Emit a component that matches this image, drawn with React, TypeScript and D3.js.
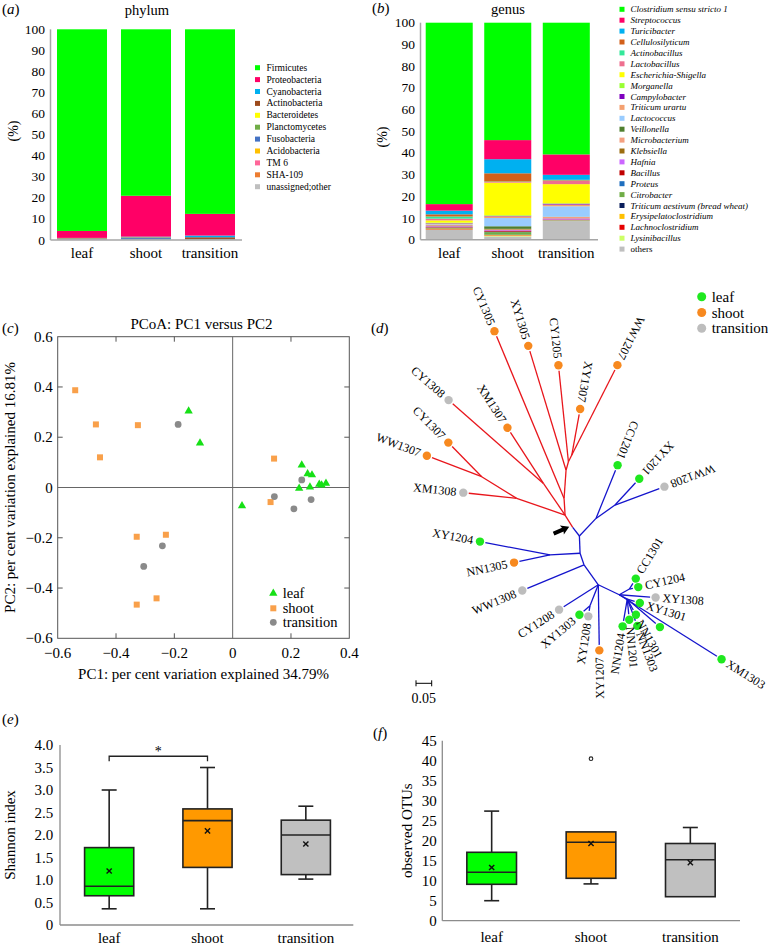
import React from 'react';
import * as d3 from 'd3';

const SERIF = '"Liberation Serif","Times New Roman",Times,serif';

// ---------- shared ----------
const groups = ['leaf', 'shoot', 'transition'];
const percentTicks = [0, 10, 20, 30, 40, 50, 60, 70, 80, 90, 100];

// ---------- (a) phylum ----------
const phylumNames = ['Firmicutes', 'Proteobacteria', 'Cyanobacteria', 'Actinobacteria', 'Bacteroidetes', 'Planctomycetes', 'Fusobacteria', 'Acidobacteria', 'TM 6', 'SHA-109', 'unassigned;other'];
const phylumColors = ['#00ff00', '#ff0066', '#00b0f0', '#9c4a1c', '#ffff00', '#70ad47', '#4472c4', '#ffc000', '#ff6699', '#ed7d31', '#bfbfbf'];
const phylumLeaf = [95.7, 3.3, 0.1, 0.2, 0.1, 0, 0.2, 0, 0.1, 0, 0.3];
const phylumShoot = [79.0, 19.4, 0.3, 0.2, 0.1, 0.1, 0.5, 0, 0, 0, 0.4];
const phylumTransition = [87.6, 10.3, 0.8, 0.8, 0.1, 0, 0.2, 0, 0, 0, 0.2];

// ---------- (b) genus ----------
const genusNames = ['Clostridium sensu stricto 1', 'Streptococcus', 'Turicibacter', 'Cellulosilyticum', 'Actinobacillus', 'Lactobacillus', 'Escherichia-Shigella', 'Morganella', 'Campylobacter', 'Triticum urartu', 'Lactococcus', 'Veillonella', 'Microbacterium', 'Klebsiella', 'Hafnia', 'Bacillus', 'Proteus', 'Citrobacter', 'Triticum aestivum (bread wheat)', 'Erysipelatoclostridium', 'Lachnoclostridium', 'Lysinibacillus', 'others'];
const genusColors = ['#00ff00', '#ff0066', '#00b0f0', '#d2601a', '#33e89a', '#ee6f8f', '#ffff00', '#99ff33', '#7f00bf', '#f4a070', '#99ccff', '#4f7f2f', '#f4a080', '#9c6d10', '#cc66ff', '#c00000', '#1f6fbf', '#70ad47', '#0a1f5c', '#ffc000', '#e60000', '#ccff66', '#bfbfbf'];
const genusLeaf = [83.6, 3.0, 1.7, 1.0, 1.0, 0.8, 1.0, 0.3, 0.2, 0.3, 0.3, 0.1, 0.4, 0.1, 0.4, 0.2, 0.1, 0.2, 0.1, 0.3, 0.2, 0.2, 4.5];
const genusShoot = [54.1, 8.8, 6.5, 3.8, 0.2, 0.3, 15.0, 0.3, 0.2, 0.8, 3.8, 1.2, 0.2, 0.3, 0.3, 0.5, 0.2, 1.2, 0.1, 0.2, 0.2, 0.3, 1.5];
const genusTransition = [60.7, 9.4, 2.3, 0.3, 0.2, 1.5, 8.8, 0.2, 0.4, 0.8, 4.8, 0.1, 0.6, 0.1, 0.5, 0.2, 0.1, 0.1, 0, 0.1, 0.1, 0.1, 8.6];

// ---------- (c) PCoA ----------
const pcoaLeafPC1 = [-0.151, -0.112, 0.237, 0.257, 0.272, 0.228, 0.265, 0.297, 0.305, 0.320, 0.032];
const pcoaLeafPC2 = [0.304, 0.177, 0.089, 0.054, 0.050, -0.003, 0.002, 0.013, 0.010, 0.017, -0.073];
const pcoaShootPC1 = [-0.540, -0.469, -0.325, -0.455, 0.142, 0.130, -0.329, -0.229, -0.261, -0.329];
const pcoaShootPC2 = [0.387, 0.251, 0.248, 0.120, 0.115, -0.058, -0.196, -0.188, -0.441, -0.466];
const pcoaTransitionPC1 = [-0.187, 0.237, 0.143, 0.269, 0.210, -0.241, -0.305];
const pcoaTransitionPC2 = [0.251, 0.030, -0.036, -0.048, -0.085, -0.232, -0.314];
const pcoaTicks = [-0.6, -0.4, -0.2, 0, 0.2, 0.4];
const pcoaYTicks = [-0.6, -0.4, -0.2, 0, 0.2, 0.4, 0.6];

// ---------- (d) tree: [node, parent, branch length, angle deg] ----------
const treeBranches: [string, string, number, number][] = [
  ['R0', 'O', 0.046, -121.9],
  ['n1', 'R0', 0.163, -161.0],
  ['XM1308', 'n1', 0.171, -173.9],
  ['n2', 'n1', 0.131, -148.2],
  ['WW1307', 'n2', 0.187, -159.1],
  ['CY1307', 'n2', 0.152, -134.4],
  ['n3', 'R0', 0.122, -124.4],
  ['CY1308', 'n3', 0.402, -138.7],
  ['XM1307', 'n3', 0.211, -122.9],
  ['n4', 'R0', 0.053, -93.4],
  ['CY1305', 'n4', 0.577, -112.6],
  ['n5', 'n4', 0.090, -86.0],
  ['XY1305', 'n5', 0.414, -106.9],
  ['n6', 'n5', 0.028, -74.4],
  ['CY1205', 'n6', 0.309, -95.9],
  ['n7', 'n6', 0.024, -63.4],
  ['XY1307', 'n7', 0.149, -79.7],
  ['WW1207', 'n7', 0.321, -63.1],
  ['B0', 'O', 0.035, 52.4],
  ['u1', 'B0', 0.077, -46.7],
  ['CC1201', 'u1', 0.183, -67.9],
  ['u2', 'u1', 0.074, -35.1],
  ['XY1201', 'u2', 0.114, -47.3],
  ['WW1208', 'u2', 0.168, -20.4],
  ['b1', 'B0', 0.055, 87.8],
  ['l1', 'b1', 0.096, 176.8],
  ['XY1204', 'l1', 0.227, -169.2],
  ['NN1305', 'l1', 0.117, 168.0],
  ['b2', 'b1', 0.039, 71.1],
  ['WW1308', 'b2', 0.213, 157.4],
  ['b3', 'b2', 0.078, 54.4],
  ['CY1208', 'b3', 0.148, 147.6],
  ['s1', 'b3', 0.072, 111.6],
  ['XY1303', 's1', 0.044, 139.8],
  ['XY1208', 's1', 0.034, 98.9],
  ['XY1207', 'b3', 0.209, 89.1],
  ['b4', 'b3', 0.074, 25.5],
  ['c1', 'b4', 0.037, -29.5],
  ['CC1301', 'c1', 0.039, -58.5],
  ['CY1204', 'c1', 0.029, -12.5],
  ['XY1308', 'b4', 0.116, 4.2],
  ['d1', 'b4', 0.029, 28.4],
  ['XY1301', 'd1', 0.042, 17.5],
  ['NN1204', 'd1', 0.088, 99.7],
  ['NN1201', 'd1', 0.066, 84.5],
  ['NN1303', 'd1', 0.091, 69.4],
  ['NN1301', 'd1', 0.057, 61.0],
  ['_leaf13', 'd1', 0.137, 40.6],
  ['XM1303', 'b4', 0.385, 32.2],
];
const treeLeafSamples = ['CC1201', 'XY1201', 'XY1204', 'CC1301', 'CY1204', 'XY1301', 'XY1303', 'NN1204', 'NN1201', 'NN1303', 'NN1301', '_leaf13', 'XM1303'];
const treeShootSamples = ['CY1305', 'XY1305', 'CY1205', 'WW1207', 'XY1307', 'XM1307', 'CY1307', 'WW1307', 'NN1305', 'XY1207'];
const treeTransitionSamples = ['CY1308', 'XM1308', 'WW1208', 'WW1308', 'CY1208', 'XY1208', 'XY1308'];
const outwardLabels = ['CC1301', 'CY1204', 'XY1308', 'XY1301', 'NN1301', 'NN1303', 'NN1201', 'XM1303'];

// ---------- (e) Shannon: [min, q1, median, q3, max, mean] ----------
const shannonLeaf = [0.36, 0.65, 0.86, 1.72, 3.0, 1.2];
const shannonShoot = [0.36, 1.28, 2.32, 2.58, 3.5, 2.09];
const shannonTransition = [1.02, 1.12, 2.0, 2.33, 2.64, 1.8];
const shannonTicks = [0, 0.5, 1.0, 1.5, 2.0, 2.5, 3.0, 3.5, 4.0];

// ---------- (f) observed OTUs ----------
const otuLeaf = [5, 9.1, 12.1, 17.1, 27.4, 13.3];
const otuShoot = [9.2, 10.6, 19.6, 22.2, 22.2, 19.3];
const otuTransition = [6.0, 6.0, 15.25, 19.3, 23.3, 14.5];
const otuShootOutliers = [40.5];
const otuTicks = [0, 5, 10, 15, 20, 25, 30, 35, 40, 45];

const boxColors = ['#00ff00', '#ff9900', '#c0c0c0'];
const sampleColors = { leaf: '#1fe81f', shoot: '#f7891f', transition: '#bdbdbd' };

function PanelLabel({ x, y, letter }: { x: number; y: number; letter: string }) {
  return (
    <text x={x} y={y} fontSize={15} dominantBaseline="central" fill="#000">
      (<tspan fontStyle="italic">{letter}</tspan>)
    </text>
  );
}

function stackLayers(names: string[], series: number[][]) {
  const rows = groups.map((g, i) => {
    const r: any = { group: g };
    names.forEach((n, j) => (r[n] = series[i][j]));
    return r;
  });
  return d3.stack<any>().keys([...names].reverse())(rows);
}

function StackPanel(props: {
  names: string[]; colors: string[]; series: number[][];
  x: d3.ScaleBand<string>; y: d3.ScaleLinear<number, number>;
  axisX: number; axisEnd: number; tickX: number;
}) {
  const { names, colors, series, x, y, axisX, axisEnd, tickX } = props;
  const layers = stackLayers(names, series);
  return (
    <g>
      {layers.map((layer) => {
        const ci = names.indexOf(layer.key);
        return layer.map((d, i) => {
          const h = y(d[0]) - y(d[1]);
          if (h <= 0) return null;
          return <rect key={layer.key + i} x={x(groups[i])} y={y(d[1])} width={x.bandwidth()} height={h} fill={colors[ci]} />;
        });
      })}
      <line x1={axisX} x2={axisX} y1={y(100)} y2={y(0)} stroke="#a6a6a6" strokeWidth={1.5} />
      <line x1={axisX} x2={axisEnd} y1={y(0)} y2={y(0)} stroke="#a6a6a6" strokeWidth={1.5} />
      {percentTicks.map((t) => (
        <text key={t} x={tickX} y={y(t)} fontSize={13.5} textAnchor="end" dominantBaseline="central">{t}</text>
      ))}
      {groups.map((g) => (
        <text key={g} x={(x(g) as number) + x.bandwidth() / 2} y={253} fontSize={15} textAnchor="middle" dominantBaseline="central">{g}</text>
      ))}
    </g>
  );
}

function PanelA() {
  const y = d3.scaleLinear().domain([0, 100]).range([240, 29.3]);
  const x = d3.scaleBand<string>().domain(groups).range([50, 242]).paddingInner(14 / 64).paddingOuter(7 / 64);
  return (
    <g>
      <PanelLabel x={2} y={9} letter="a" />
      <text x={147} y={9.5} fontSize={14.5} textAnchor="middle" dominantBaseline="central">phylum</text>
      <text transform="translate(13,131) rotate(-90)" fontSize={14} textAnchor="middle" dominantBaseline="central">(%)</text>
      <StackPanel names={phylumNames} colors={phylumColors} series={[phylumLeaf, phylumShoot, phylumTransition]} x={x} y={y} axisX={50.5} axisEnd={242} tickX={45} />
      {phylumNames.map((n, i) => (
        <g key={n}>
          <rect x={255} y={67.7 + i * 11.9 - 2.5} width={5} height={5} fill={phylumColors[i]} />
          <text x={266.5} y={67.7 + i * 11.9} fontSize={9.5} dominantBaseline="central">{n}</text>
        </g>
      ))}
    </g>
  );
}

function PanelB() {
  const y = d3.scaleLinear().domain([0, 100]).range([239.7, 22.7]);
  const x = d3.scaleBand<string>().domain(groups).range([420, 595.5]).paddingInner(0.1966).paddingOuter(0.0974);
  return (
    <g>
      <PanelLabel x={372} y={8} letter="b" />
      <text x={508} y={8.5} fontSize={14.5} textAnchor="middle" dominantBaseline="central">genus</text>
      <text transform="translate(382,137) rotate(-90)" fontSize={14} textAnchor="middle" dominantBaseline="central">(%)</text>
      <StackPanel names={genusNames} colors={genusColors} series={[genusLeaf, genusShoot, genusTransition]} x={x} y={y} axisX={420.5} axisEnd={598} tickX={415} />
      {genusNames.map((n, i) => (
        <g key={n}>
          <rect x={619.5} y={9.3 + i * 10.9 - 2.5} width={5} height={5} fill={genusColors[i]} />
          <text x={630.5} y={9.3 + i * 10.9} fontSize={9} fontStyle={n === 'others' ? 'normal' : 'italic'} dominantBaseline="central">{n}</text>
        </g>
      ))}
    </g>
  );
}

function fmtSigned(t: number) {
  if (t === 0) return '0';
  return (t < 0 ? '\u2212' : '') + Math.abs(t).toFixed(1);
}

function Triangle({ cx, cy, s, fill }: { cx: number; cy: number; s: number; fill: string }) {
  const sym = d3.symbol().type(d3.symbolTriangle).size(s)();
  return <path d={sym as string} transform={`translate(${cx},${cy})`} fill={fill} />;
}

function PanelC() {
  const x = d3.scaleLinear().domain([-0.6, 0.4]).range([57.7, 349.3]);
  const y = d3.scaleLinear().domain([-0.6, 0.6]).range([638.3, 336.7]);
  const tk = 5;
  return (
    <g>
      <PanelLabel x={2} y={328} letter="c" />
      <text x={201.5} y={323.5} fontSize={15} textAnchor="middle" dominantBaseline="central">PCoA: PC1 versus PC2</text>
      <rect x={x(-0.6)} y={y(0.6)} width={x(0.4) - x(-0.6)} height={y(-0.6) - y(0.6)} fill="none" stroke="#555" strokeWidth={1} />
      <line x1={x(0)} x2={x(0)} y1={y(0.6)} y2={y(-0.6)} stroke="#666" strokeWidth={1} />
      <line x1={x(-0.6)} x2={x(0.4)} y1={y(0)} y2={y(0)} stroke="#666" strokeWidth={1} />
      {pcoaTicks.filter((t) => t !== 0 && t !== -0.6 && t !== 0.4).map((t) => (
        <g key={'xt' + t}>
          <line x1={x(t)} x2={x(t)} y1={y(0.6)} y2={y(0.6) + tk} stroke="#555" />
          <line x1={x(t)} x2={x(t)} y1={y(-0.6)} y2={y(-0.6) - tk} stroke="#555" />
        </g>
      ))}
      {pcoaYTicks.filter((t) => t !== 0 && Math.abs(t) !== 0.6).map((t) => (
        <g key={'yt' + t}>
          <line x1={x(-0.6)} x2={x(-0.6) + tk} y1={y(t)} y2={y(t)} stroke="#555" />
          <line x1={x(0.4)} x2={x(0.4) - tk} y1={y(t)} y2={y(t)} stroke="#555" />
        </g>
      ))}
      {pcoaTicks.map((t) => (
        <text key={'xl' + t} x={x(t)} y={653} fontSize={15} textAnchor="middle" dominantBaseline="central">{fmtSigned(t)}</text>
      ))}
      {pcoaYTicks.map((t) => (
        <text key={'yl' + t} x={52.7} y={y(t)} fontSize={15} textAnchor="end" dominantBaseline="central">{fmtSigned(t)}</text>
      ))}
      <text x={203.5} y={674} fontSize={15} textAnchor="middle" dominantBaseline="central">PC1: per cent variation explained 34.79%</text>
      <text transform={`translate(10,${y(0)}) rotate(-90)`} fontSize={15} textAnchor="middle" dominantBaseline="central">PC2: per cent variation explained 16.81%</text>
      {pcoaShootPC1.map((v, i) => (
        <rect key={'s' + i} x={x(v) - 3} y={y(pcoaShootPC2[i]) - 3} width={6} height={6} fill="#f9a04a" />
      ))}
      {pcoaTransitionPC1.map((v, i) => (
        <circle key={'t' + i} cx={x(v)} cy={y(pcoaTransitionPC2[i])} r={3.4} fill="#8a8a8a" />
      ))}
      {pcoaLeafPC1.map((v, i) => (
        <Triangle key={'l' + i} cx={x(v)} cy={y(pcoaLeafPC2[i])} s={30} fill="#16e016" />
      ))}
      <Triangle cx={273.3} cy={593.3} s={30} fill="#16e016" />
      <text x={282.7} y={593.3} fontSize={14.5} dominantBaseline="central">leaf</text>
      <rect x={270.3} y={605.3} width={6} height={6} fill="#f9a04a" />
      <text x={282.7} y={608.3} fontSize={14.5} dominantBaseline="central">shoot</text>
      <circle cx={273.3} cy={622.3} r={3.4} fill="#8a8a8a" />
      <text x={282.7} y={622.3} fontSize={14.5} dominantBaseline="central">transition</text>
    </g>
  );
}

function PanelD() {
  const lenScale = d3.scaleLinear().domain([0, 0.05]).range([0, 15.7]);
  const origin = { x: 572.7, y: 527.3 };
  const pos: Record<string, { x: number; y: number; angle: number; parent: string }> = { O: { ...origin, angle: 0, parent: '' } };
  treeBranches.forEach(([id, parent, len, ang]) => {
    const p = pos[parent];
    const r = lenScale(len);
    const a = (ang * Math.PI) / 180;
    pos[id] = { x: p.x + r * Math.cos(a), y: p.y + r * Math.sin(a), angle: ang, parent };
  });
  const isRed = (id: string) => {
    let cur = id;
    while (cur && cur !== 'O') {
      if (cur === 'R0') return true;
      cur = pos[cur].parent;
    }
    return false;
  };
  const groupOf = (id: string) =>
    treeLeafSamples.includes(id) ? 'leaf' : treeShootSamples.includes(id) ? 'shoot' : treeTransitionSamples.includes(id) ? 'transition' : null;
  const leaves = treeBranches.map((b) => b[0]).filter((id) => groupOf(id));
  const tip = { x: origin.x - 3.5, y: origin.y - 0.5 };
  return (
    <g>
      <PanelLabel x={371} y={328} letter="d" />
      {treeBranches.map(([id, parent]) => {
        const p = pos[parent];
        const c = pos[id];
        let x2 = c.x, y2 = c.y;
        if (groupOf(id)) {
          const a = (c.angle * Math.PI) / 180;
          x2 -= 5.5 * Math.cos(a);
          y2 -= 5.5 * Math.sin(a);
        }
        return <line key={id} x1={p.x} y1={p.y} x2={x2} y2={y2} stroke={isRed(id) ? '#e8161c' : '#1414cc'} strokeWidth={1.3} />;
      })}
      {leaves.map((id) => {
        const c = pos[id];
        const g = groupOf(id) as 'leaf' | 'shoot' | 'transition';
        return <circle key={'c' + id} cx={c.x} cy={c.y} r={4.2} fill={sampleColors[g]} />;
      })}
      {leaves.filter((id) => !id.startsWith('_')).map((id) => {
        const c = pos[id];
        const a = (c.angle * Math.PI) / 180;
        const lx = c.x + 7 * Math.cos(a);
        const ly = c.y + 7 * Math.sin(a);
        const outward = outwardLabels.includes(id);
        return (
          <text key={'t' + id} transform={`translate(${lx},${ly}) rotate(${outward ? c.angle : c.angle + 180})`} fontSize={12} textAnchor={outward ? 'start' : 'end'} dominantBaseline="central">{id}</text>
        );
      })}
      <path d="M0,0 L-8,-5 L-7,-2 L-17,-2 L-17,2 L-7,2 L-8,5 Z" transform={`translate(${tip.x},${tip.y}) rotate(-23.5)`} fill="#000" />
      <line x1={416} x2={416 + lenScale(0.05)} y1={683.3} y2={683.3} stroke="#000" strokeWidth={1} />
      <line x1={416} x2={416} y1={680.3} y2={686.3} stroke="#000" strokeWidth={1} />
      <line x1={416 + lenScale(0.05)} x2={416 + lenScale(0.05)} y1={680.3} y2={686.3} stroke="#000" strokeWidth={1} />
      <text x={416 + lenScale(0.05) / 2} y={698.3} fontSize={14} textAnchor="middle" dominantBaseline="central">0.05</text>
      {(['leaf', 'shoot', 'transition'] as const).map((g, i) => (
        <g key={g}>
          <circle cx={701.7} cy={296.7 + i * 15.8} r={4.5} fill={sampleColors[g]} />
          <text x={711.7} y={296.7 + i * 15.8} fontSize={15} dominantBaseline="central">{g}</text>
        </g>
      ))}
    </g>
  );
}

function BoxPanel(props: {
  stats: number[][]; outliers: number[][]; y: d3.ScaleLinear<number, number>; x: d3.ScaleBand<string>;
  ticks: number[]; fmt: (t: number) => string; axisX: number; axisEnd: number; tickX: number; labelY: number;
}) {
  const { stats, outliers, y, x, ticks, fmt, axisX, axisEnd, tickX, labelY } = props;
  const bw = x.bandwidth();
  const top = y(ticks[ticks.length - 1]);
  return (
    <g>
      <line x1={axisX} x2={axisX} y1={top} y2={y(0)} stroke="#8c8c8c" strokeWidth={1.3} />
      <line x1={axisX} x2={axisEnd} y1={y(0)} y2={y(0)} stroke="#8c8c8c" strokeWidth={1.3} />
      {ticks.map((t) => (
        <text key={t} x={tickX} y={y(t)} fontSize={15} textAnchor="end" dominantBaseline="central">{fmt(t)}</text>
      ))}
      {groups.map((g, i) => {
        const [mn, q1, med, q3, mx, mean] = stats[i];
        const x0 = x(g) as number;
        const cx = x0 + bw / 2;
        return (
          <g key={g}>
            {mx > q3 && <line x1={cx} x2={cx} y1={y(mx)} y2={y(q3)} stroke="#222" strokeWidth={1.6} />}
            {mx > q3 && <line x1={cx - 7.5} x2={cx + 7.5} y1={y(mx)} y2={y(mx)} stroke="#222" strokeWidth={1.6} />}
            {mn < q1 && <line x1={cx} x2={cx} y1={y(q1)} y2={y(mn)} stroke="#222" strokeWidth={1.6} />}
            {mn < q1 && <line x1={cx - 7.5} x2={cx + 7.5} y1={y(mn)} y2={y(mn)} stroke="#222" strokeWidth={1.6} />}
            <rect x={x0} y={y(q3)} width={bw} height={y(q1) - y(q3)} fill={boxColors[i]} stroke="#222" strokeWidth={1.6} />
            <line x1={x0} x2={x0 + bw} y1={y(med)} y2={y(med)} stroke="#222" strokeWidth={1.6} />
            <line x1={cx - 2.6} x2={cx + 2.6} y1={y(mean) - 2.6} y2={y(mean) + 2.6} stroke="#111" strokeWidth={1.4} />
            <line x1={cx - 2.6} x2={cx + 2.6} y1={y(mean) + 2.6} y2={y(mean) - 2.6} stroke="#111" strokeWidth={1.4} />
            {outliers[i].map((o, k) => (
              <circle key={k} cx={cx} cy={y(o)} r={1.8} fill="#fff" stroke="#222" strokeWidth={1.1} />
            ))}
            <text x={cx} y={labelY} fontSize={15} textAnchor="middle" dominantBaseline="central">{g}</text>
          </g>
        );
      })}
    </g>
  );
}

function PanelE() {
  const y = d3.scaleLinear().domain([0, 4]).range([925, 745]);
  const x = d3.scaleBand<string>().domain(groups).range([60, 355]).paddingInner(0.5).paddingOuter(0.25);
  const c0 = (x('leaf') as number) + x.bandwidth() / 2;
  const c1 = (x('shoot') as number) + x.bandwidth() / 2;
  const by = y(3.75);
  return (
    <g>
      <PanelLabel x={2} y={719} letter="e" />
      <text transform="translate(10,835) rotate(-90)" fontSize={15} textAnchor="middle" dominantBaseline="central">Shannon index</text>
      <BoxPanel stats={[shannonLeaf, shannonShoot, shannonTransition]} outliers={[[], [], []]} y={y} x={x} ticks={shannonTicks}
        fmt={(t) => (t === 0 ? '0' : t.toFixed(1))} axisX={60} axisEnd={353.3} tickX={53.3} labelY={938.3} />
      <path d={`M${c0},${by + 5} L${c0},${by} L${c1},${by} L${c1},${by + 5}`} fill="none" stroke="#222" strokeWidth={1.3} />
      <text x={(c0 + c1) / 2} y={by - 5} fontSize={14} textAnchor="middle" dominantBaseline="central" fill="#000">*</text>
    </g>
  );
}

function PanelF() {
  const y = d3.scaleLinear().domain([0, 45]).range([920.7, 740.7]);
  const x = d3.scaleBand<string>().domain(groups).range([442, 740]).paddingInner(0.5).paddingOuter(0.25);
  return (
    <g>
      <PanelLabel x={373} y={733} letter="f" />
      <text transform="translate(406.7,830.7) rotate(-90)" fontSize={15} textAnchor="middle" dominantBaseline="central">observed OTUs</text>
      <BoxPanel stats={[otuLeaf, otuShoot, otuTransition]} outliers={[[], otuShootOutliers, []]} y={y} x={x} ticks={otuTicks}
        fmt={(t) => String(t)} axisX={442.3} axisEnd={740} tickX={436.7} labelY={936.7} />
    </g>
  );
}

export default function App() {
  return (
    <svg width={768} height={946} viewBox="0 0 768 946" fontFamily={SERIF} fill="#000"
      style={{ position: 'absolute', left: 0, top: 0, background: '#fff', display: 'block' }}>
      <rect width={768} height={946} fill="#fff" />
      <PanelA />
      <PanelB />
      <PanelC />
      <PanelD />
      <PanelE />
      <PanelF />
    </svg>
  );
}
